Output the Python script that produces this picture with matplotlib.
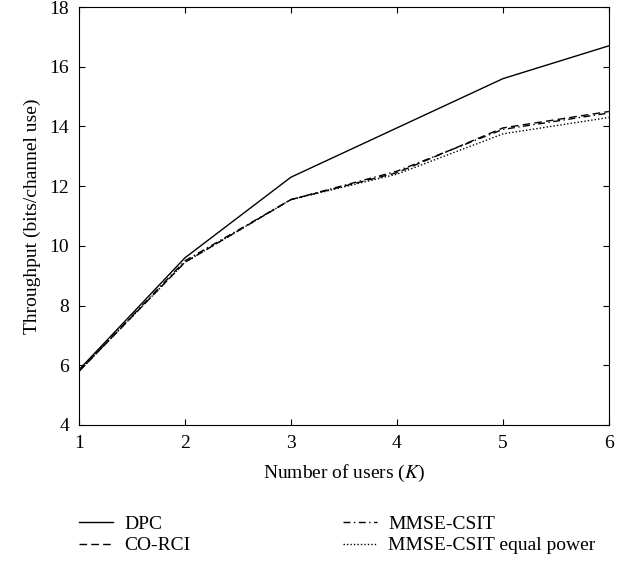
import matplotlib.pyplot as plt

users = [1, 2, 3, 4, 5, 6]
dpc = [5.85, 9.6, 12.3, 13.95, 15.6, 16.7]
co_rci = [5.8, 9.45, 11.55, 12.45, 13.95, 14.5]
mmse_csit = [5.8, 9.5, 11.55, 12.5, 13.9, 14.45]
mmse_equal = [5.8, 9.45, 11.55, 12.4, 13.75, 14.3]

plt.rcParams['font.family'] = ['Liberation Serif', 'DejaVu Serif']
plt.rcParams['mathtext.fontset'] = 'stix'

fig = plt.figure(figsize=(6.27, 5.62), dpi=100)
ax = fig.add_axes([0.126, 0.2438, 0.845, 0.7437])

ax.plot(users, dpc, color='k', ls='-', lw=1.0, label='DPC')
ax.plot(users, co_rci, color='k', ls=(0, (5.5, 3)), lw=1.0, label='CO-RCI')
ax.plot(users, mmse_csit, color='k', ls=(0, (5, 2.5, 1, 2.5)), lw=1.0,
        label='MMSE-CSIT')
ax.plot(users, mmse_equal, color='k', ls=(0, (1, 1.5)), lw=1.0,
        label='MMSE-CSIT equal power')

ax.set_xlim(1, 6)
ax.set_ylim(4, 18)
ax.set_xticks(users)
ax.set_yticks(range(4, 19, 2))
ax.tick_params(direction='in', top=True, right=True, labelsize=14,
               length=4, pad=7)
ax.set_xlabel('Number of users ($K$)', fontsize=14, labelpad=8)
ax.set_ylabel('Throughput (bits/channel use)', fontsize=14, labelpad=6)

handles, labels = ax.get_legend_handles_labels()
fig.legend(handles, labels, loc='upper left', bbox_to_anchor=(0.126, 0.083),
           ncol=2, frameon=False, fontsize=14, handlelength=1.75,
           handletextpad=0.6, columnspacing=7.8, labelspacing=0.2,
           borderpad=0, borderaxespad=0)

fig.savefig('out.png', dpi=100)
